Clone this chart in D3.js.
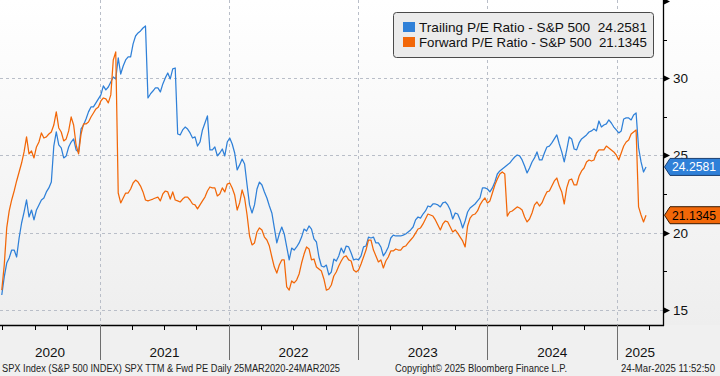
<!DOCTYPE html>
<html><head><meta charset="utf-8">
<script src="https://cdn.jsdelivr.net/npm/d3@7"></script>
<style>html,body{margin:0;padding:0;background:#f0f0f0;}svg{display:block;}</style>
</head><body><svg id="c" width="720" height="376"></svg>
<script>
// Weekly samples (Mondays) from 2020-03-30 to 2025-03-24
const firstWeek = "2020-03-30";
const trailingPE = [
15.97,17.14,18.04,18.37,18.88,18.88,18.43,19.66,20.63,21.34,
22.12,21.02,21.47,20.83,21.47,21.80,22.12,22.25,22.64,22.90,
23.28,25.61,26.52,25.68,25.49,24.84,24.97,25.55,25.87,26.07,
25.36,25.23,26.72,26.97,27.36,27.82,28.14,28.14,28.40,28.66,
28.92,29.50,29.24,29.43,29.76,30.08,29.95,31.31,30.27,30.79,
31.18,31.38,31.38,32.22,32.73,32.93,33.06,33.25,33.38,28.72,
28.98,29.17,29.37,29.37,29.11,29.63,30.02,30.34,29.95,30.60,
30.66,26.39,26.33,26.65,26.84,26.71,26.46,26.13,26.20,25.61,
25.87,26.65,27.10,27.56,25.36,25.36,25.55,24.97,25.16,25.42,
24.97,25.87,26.13,25.74,25.16,24.06,24.39,24.77,24.45,23.09,
21.80,21.28,21.80,22.83,23.28,23.09,22.64,22.25,21.73,21.28,
20.31,19.34,19.92,20.37,19.92,19.08,18.24,19.01,18.88,19.08,
19.34,19.72,20.24,20.11,20.44,20.24,19.60,19.40,18.43,17.85,
17.78,17.91,17.27,17.46,18.30,18.17,18.50,19.01,18.69,19.14,
19.08,18.69,18.24,18.30,18.24,18.50,19.08,19.14,19.72,19.66,
19.72,19.34,19.34,19.08,18.50,18.75,19.08,19.66,19.85,19.79,
19.79,19.79,19.85,19.92,20.05,20.18,20.37,20.83,21.02,20.95,
21.21,21.41,21.73,21.67,21.86,21.86,21.80,21.67,21.93,21.99,
21.80,21.47,20.89,21.28,21.21,20.83,20.31,20.76,21.34,21.60,
21.73,21.86,22.06,22.25,22.90,22.90,22.83,22.64,22.90,23.28,
23.80,24.00,24.13,24.26,24.39,24.51,24.71,24.90,25.03,24.97,
24.71,24.32,23.87,24.19,24.58,24.84,25.23,24.71,24.71,25.16,
25.55,25.61,25.81,26.07,26.33,25.74,25.23,24.58,25.36,26.20,
26.07,25.42,25.36,25.81,26.07,26.20,26.33,26.52,26.59,26.72,
26.59,27.23,26.84,26.97,27.04,27.30,27.10,26.84,26.65,26.46,
26.59,27.36,27.43,27.43,27.30,27.62,27.75,25.49,24.58,23.93,
24.2581];
const forwardPE = [
16.29,17.91,20.31,21.41,22.12,22.70,23.35,23.93,24.51,25.23,
26.20,25.10,25.29,24.84,25.55,25.87,26.46,26.13,26.20,26.39,
26.52,26.97,27.82,26.78,26.52,25.94,26.07,26.59,27.49,26.97,
25.68,25.10,26.39,27.04,27.04,27.17,27.49,27.75,28.01,28.14,
28.53,28.72,28.66,28.40,28.92,31.18,31.70,22.57,21.93,22.25,
22.57,22.57,22.83,23.22,23.41,23.28,23.02,22.64,22.12,22.06,
22.12,22.18,22.25,22.31,22.06,22.51,22.70,22.64,22.18,22.64,
22.12,22.06,21.99,22.18,22.31,22.31,22.12,21.86,21.80,21.54,
21.80,22.06,22.31,22.70,22.96,22.90,22.90,22.38,22.51,22.90,
22.64,23.15,23.22,22.90,22.44,21.47,21.93,22.77,22.25,21.15,
19.79,19.21,19.34,20.05,20.31,20.18,19.72,19.53,19.14,18.43,
17.78,17.39,17.91,18.24,18.24,16.49,16.29,16.88,16.75,16.94,
17.33,18.04,18.62,19.08,18.95,18.24,18.30,17.78,17.65,17.52,
17.01,16.29,16.36,16.62,17.20,17.46,17.85,18.17,18.43,18.50,
18.24,18.17,17.59,17.46,17.59,17.98,18.43,18.88,19.53,19.53,
18.88,18.50,18.11,18.24,17.72,18.17,18.43,18.82,18.82,18.95,
18.88,18.88,19.08,19.14,19.34,19.53,19.72,19.98,20.24,20.31,
20.57,20.89,21.21,21.15,21.08,20.83,20.50,20.18,20.57,20.76,
20.70,20.37,20.05,20.18,19.98,19.72,19.47,19.08,20.44,20.95,
21.15,21.21,21.41,21.80,22.06,22.25,21.93,22.06,22.57,23.09,
23.48,23.80,23.93,23.80,21.08,21.34,21.41,21.54,21.67,21.60,
21.47,21.02,20.70,20.89,21.28,21.80,21.99,21.73,21.93,22.31,
22.64,22.70,23.02,23.35,23.54,23.02,22.64,21.86,22.90,23.41,
23.48,23.09,23.09,23.67,24.00,24.19,24.58,24.71,24.64,24.71,
25.16,25.36,25.36,25.36,25.61,25.49,25.36,25.23,25.03,24.71,
25.16,25.61,25.87,26.00,26.39,26.52,26.65,21.67,21.15,20.70,
21.1345];
const seriesNames = ["Trailing P/E Ratio - S&P 500", "Forward P/E Ratio - S&P 500"];
const lastValues = ["24.2581", "21.1345"];
const yearLabels = ["2020","2021","2022","2023","2024","2025"];
const yTicks = [15, 20, 25, 30, 35];
const yMinorTicks = [17.5, 22.5, 27.5, 32.5];
const footerLeft = "SPX Index (S&P 500 INDEX) SPX TTM & Fwd PE  Daily 25MAR2020-24MAR2025";
const footerMid = "Copyright\u00a9 2025 Bloomberg Finance L.P.";
const footerRight = "24-Mar-2025 11:52:50";

const BLUE = "#2f80d8", ORANGE = "#f26708";
const parse = d3.timeParse("%Y-%m-%d");
const start = parse(firstWeek);
const dates = trailingPE.map((_, i) => d3.timeDay.offset(start, 7 * i));

const W = 720, H = 376, PR = 663, PB = 325;
const x = d3.scaleTime().domain([parse("2020-03-25"), parse("2025-05-11")]).range([0, PR]);
const y = d3.scaleLinear().domain([14.03, 35.06]).range([PB, 0]);

const svg = d3.select("#c");
const defs = svg.append("defs");
const grad = defs.append("linearGradient").attr("id", "bg").attr("x1", 0).attr("y1", 0).attr("x2", 0).attr("y2", 1);
grad.append("stop").attr("offset", "0%").attr("stop-color", "#ffffff");
grad.append("stop").attr("offset", "100%").attr("stop-color", "#eeeeee");
defs.append("clipPath").attr("id", "clip").append("rect").attr("x", 0).attr("y", 0).attr("width", PR).attr("height", PB);

svg.append("rect").attr("width", W).attr("height", H).attr("fill", "#f0f0f0");
svg.append("rect").attr("width", W).attr("height", PB).attr("fill", "url(#bg)");

// grid
const years = d3.timeYear.range(parse("2021-01-01"), parse("2025-06-01"));
svg.append("g").selectAll("line").data(years).join("line")
  .attr("x1", d => Math.round(x(d)) + 0.5).attr("x2", d => Math.round(x(d)) + 0.5)
  .attr("y1", 0).attr("y2", PB)
  .attr("stroke", "#b9bec8").attr("stroke-dasharray", "3,3").attr("stroke-width", 1);
svg.append("g").selectAll("line").data(yTicks.filter(t => t < 35)).join("line")
  .attr("x1", 0).attr("x2", PR)
  .attr("y1", d => Math.round(y(d)) + 0.5).attr("y2", d => Math.round(y(d)) + 0.5)
  .attr("stroke", "#b9bec8").attr("stroke-dasharray", "3,3").attr("stroke-width", 1);

// lines
const line = d3.line().x((d, i) => x(dates[i])).y(d => y(d));
const g = svg.append("g").attr("clip-path", "url(#clip)");
g.append("path").datum(trailingPE).attr("d", line).attr("fill", "none").attr("stroke", BLUE).attr("stroke-width", 1.25).attr("stroke-linejoin", "round");
g.append("path").datum(forwardPE).attr("d", line).attr("fill", "none").attr("stroke", ORANGE).attr("stroke-width", 1.25).attr("stroke-linejoin", "round");

// axes lines
svg.append("line").attr("x1", PR + 0.5).attr("x2", PR + 0.5).attr("y1", 0).attr("y2", PB + 1).attr("stroke", "#000").attr("stroke-width", 1.3);
svg.append("line").attr("x1", 0).attr("x2", PR + 1).attr("y1", PB + 0.5).attr("y2", PB + 0.5).attr("stroke", "#000").attr("stroke-width", 1.3);

// right axis ticks
svg.append("g").selectAll("path").data(yTicks).join("path")
  .attr("d", d => { const yy = Math.round(y(d)) + 0.5; return `M${PR},${yy - 3.5}L${PR + 7},${yy}L${PR},${yy + 3.5}Z`; })
  .attr("fill", "#000");
svg.append("g").selectAll("line").data(yMinorTicks).join("line")
  .attr("x1", PR).attr("x2", PR + 4)
  .attr("y1", d => Math.round(y(d)) + 0.5).attr("y2", d => Math.round(y(d)) + 0.5)
  .attr("stroke", "#000");
svg.append("g").selectAll("text").data(yTicks.filter(t => t < 35)).join("text")
  .attr("x", 673).attr("y", d => y(d) + 5)
  .attr("font-family", "Liberation Sans, Arial, sans-serif").attr("font-size", 13.5).attr("fill", "#111")
  .text(d => d);

// bottom axis: quarter ticks, year separators, labels
const quarters = d3.timeMonth.every(3).range(parse("2020-04-01"), parse("2025-05-11"));
svg.append("g").selectAll("line").data(quarters.filter(d => d.getMonth() !== 0)).join("line")
  .attr("x1", d => Math.round(x(d)) + 0.5).attr("x2", d => Math.round(x(d)) + 0.5)
  .attr("y1", PB).attr("y2", PB + 5).attr("stroke", "#000");
svg.append("g").selectAll("line").data(years).join("line")
  .attr("x1", d => Math.round(x(d)) + 0.5).attr("x2", d => Math.round(x(d)) + 0.5)
  .attr("y1", PB).attr("y2", 360).attr("stroke", "#6e6e6e");
const yearBounds = [parse("2020-03-25"), ...years, parse("2025-05-11")];
svg.append("g").selectAll("text").data(yearLabels).join("text")
  .attr("x", (d, i) => (x(yearBounds[i]) + x(yearBounds[i + 1])) / 2)
  .attr("y", 357).attr("text-anchor", "middle")
  .attr("font-family", "Liberation Sans, Arial, sans-serif").attr("font-size", 13.5).attr("fill", "#111")
  .text(d => d);

// value tags
const tags = [
  {v: trailingPE[trailingPE.length - 1], label: lastValues[0], fill: BLUE, text: "#fff", stroke: "#1c3f70"},
  {v: forwardPE[forwardPE.length - 1], label: lastValues[1], fill: ORANGE, text: "#000", stroke: "#3a1a00"}
];
const tg = svg.append("g").selectAll("g").data(tags).join("g");
tg.append("path")
  .attr("d", d => { const yy = y(d.v); return `M${PR + 1.5},${yy}L${PR + 7},${yy - 8.5}L${W + 2},${yy - 8.5}L${W + 2},${yy + 8.5}L${PR + 7},${yy + 8.5}Z`; })
  .attr("fill", d => d.fill).attr("stroke", d => d.stroke).attr("stroke-width", 1);
tg.append("text").attr("x", 672).attr("y", d => y(d.v) + 4.5)
  .attr("font-family", "Liberation Sans, Arial, sans-serif").attr("font-size", 12.5)
  .attr("textLength", 44).attr("lengthAdjust", "spacingAndGlyphs")
  .attr("fill", d => d.text).text(d => d.label);

// legend
const lg = svg.append("g");
lg.append("rect").attr("x", 393.5).attr("y", 12.5).attr("width", 260).attr("height", 45).attr("rx", 3)
  .attr("fill", "#ebebeb").attr("stroke", "#4a4a4a").attr("stroke-width", 1);
const items = [{name: seriesNames[0], val: lastValues[0], c: BLUE}, {name: seriesNames[1], val: lastValues[1], c: ORANGE}];
items.forEach((it, i) => {
  const by = 32 + i * 15;
  lg.append("rect").attr("x", 403).attr("y", by - 10).attr("width", 12).attr("height", 10).attr("fill", it.c);
  lg.append("text").attr("x", 419).attr("y", by)
    .attr("font-family", "Liberation Sans, Arial, sans-serif").attr("font-size", 13.5).attr("fill", "#111")
    .attr("textLength", 228).attr("lengthAdjust", "spacingAndGlyphs")
    .text(it.name + "\u00a0\u00a0" + it.val);
});

// footer
const ff = "Liberation Sans, Arial, sans-serif";
svg.append("text").attr("x", 2).attr("y", 372).attr("font-family", ff).attr("font-size", 10).attr("fill", "#222")
  .attr("textLength", 338).attr("lengthAdjust", "spacingAndGlyphs").text(footerLeft);
svg.append("text").attr("x", 395).attr("y", 372).attr("font-family", ff).attr("font-size", 10).attr("fill", "#222")
  .attr("textLength", 172).attr("lengthAdjust", "spacingAndGlyphs").text(footerMid);
svg.append("text").attr("x", 621).attr("y", 372).attr("font-family", ff).attr("font-size", 10).attr("fill", "#222")
  .attr("textLength", 94).attr("lengthAdjust", "spacingAndGlyphs").text(footerRight);
</script></body></html>
